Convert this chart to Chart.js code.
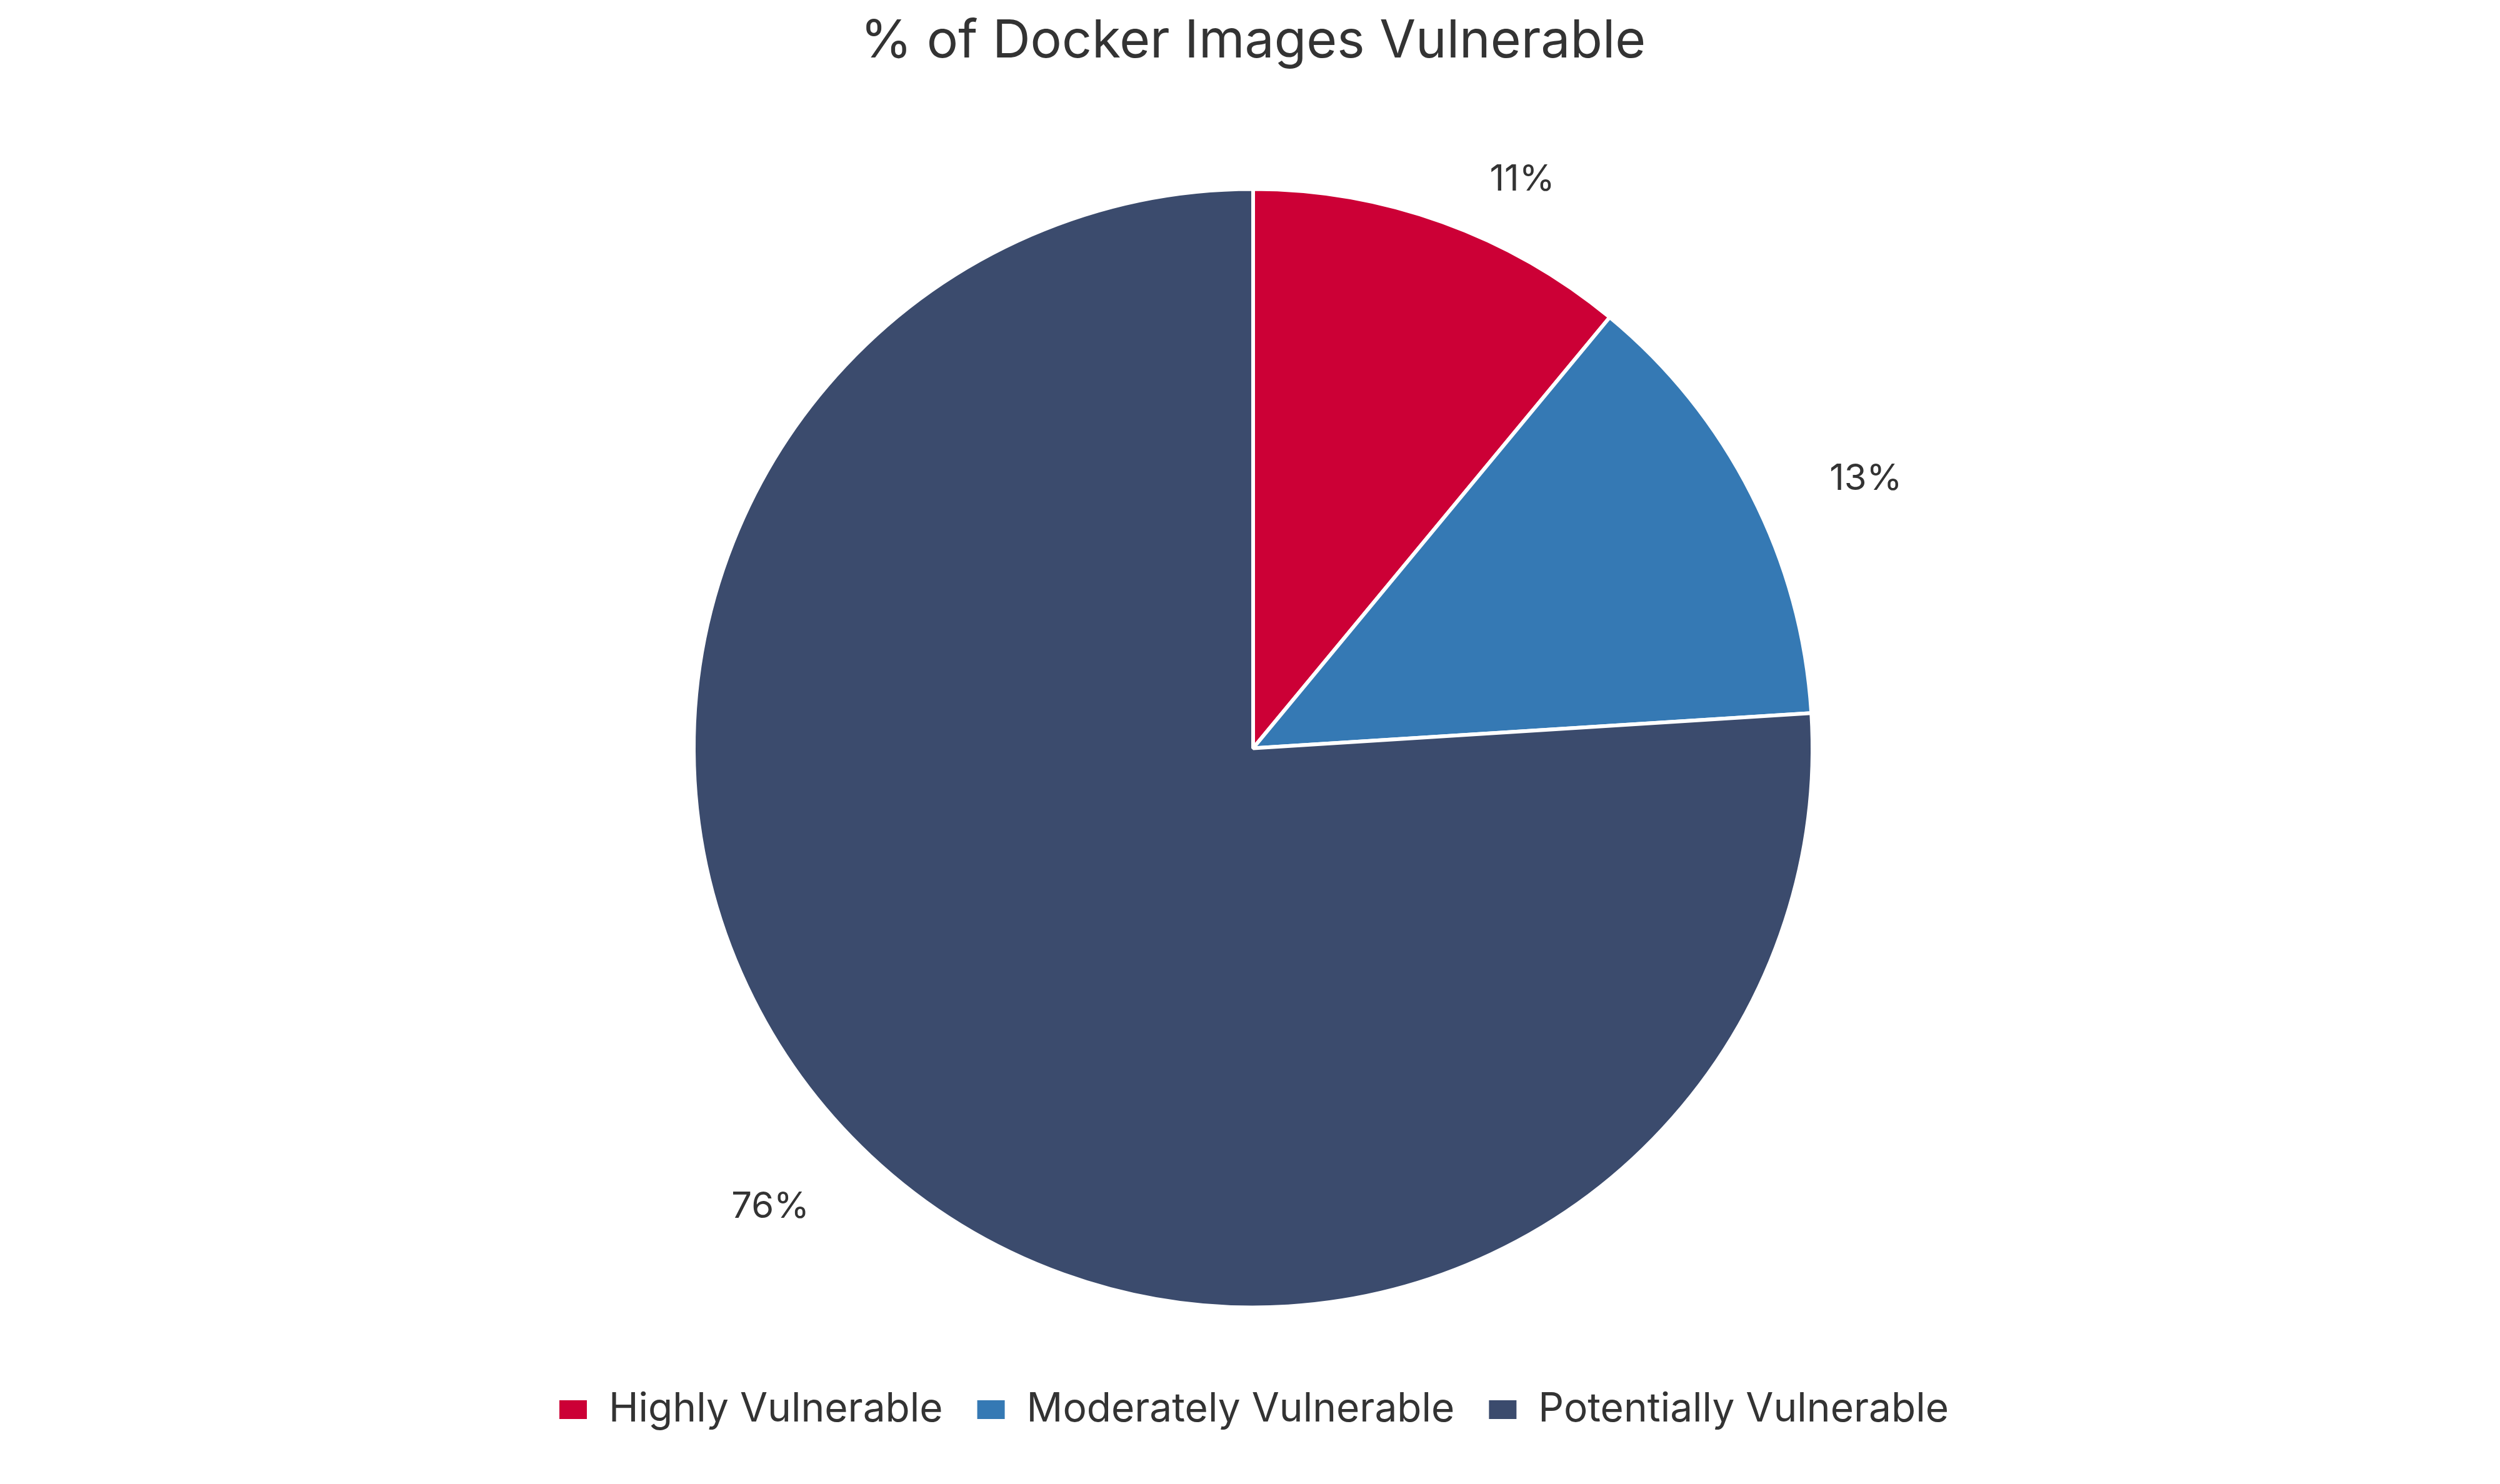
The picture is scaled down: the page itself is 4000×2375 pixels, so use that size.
<!DOCTYPE html>
<html>
<head>
<meta charset="utf-8">
<script src="https://cdn.jsdelivr.net/npm/chart.js@4.4.1/dist/chart.umd.min.js"></script>
<style>
  html, body { margin: 0; padding: 0; background: #ffffff; }
  #wrap { width: 4000px; height: 2375px; }
</style>
</head>
<body>
<div id="wrap"><canvas id="c" width="4000" height="2375"></canvas></div>
<script>
const titleText = "% of Docker Images Vulnerable";
const categories = ["Highly Vulnerable", "Moderately Vulnerable", "Potentially Vulnerable"];
const values = [11, 13, 76];
const colors = ["#CC0036", "#3579B4", "#3B4B6D"];

const FONT = "Inter, 'Open Sans', sans-serif";

const pctLabels = {
  id: "pctLabels",
  afterDatasetsDraw(chart) {
    const meta = chart.getDatasetMeta(0);
    const data = chart.data.datasets[0].data;
    const total = data.reduce((a, b) => a + b, 0);
    const ctx = chart.ctx;
    ctx.save();
    ctx.font = "400 58px " + FONT;
    ctx.fillStyle = "#333333";
    ctx.textBaseline = "middle";
    meta.data.forEach((arc, i) => {
      const p = arc.getProps(["x", "y", "startAngle", "endAngle", "outerRadius"], true);
      const mid = (p.startAngle + p.endAngle) / 2;
      const r = p.outerRadius * 1.1;
      const cx = Math.cos(mid), sy = Math.sin(mid);
      let x = p.x + cx * r;
      const y = p.y + sy * r + 16;
      if (cx >= 0) { ctx.textAlign = "left"; x += 45; }
      else { ctx.textAlign = "right"; x -= 36; }
      ctx.fillText(Math.round(data[i] / total * 100) + "%", x, y);
    });
    ctx.restore();
  }
};

new Chart(document.getElementById("c"), {
  type: "pie",
  data: {
    labels: categories,
    datasets: [{
      data: values,
      backgroundColor: colors,
      borderColor: "#ffffff",
      borderWidth: 6,
      hoverOffset: 0
    }]
  },
  options: {
    responsive: false,
    animation: false,
    devicePixelRatio: 1,
    radius: 895,
    layout: { padding: { top: 0, bottom: 77, left: 10, right: 0 } },
    plugins: {
      title: {
        display: true,
        text: titleText,
        color: "#333333",
        font: { family: FONT, size: 84, weight: "400" },
        padding: { top: 16, bottom: 106 }
      },
      legend: {
        display: true,
        position: "bottom",
        labels: {
          color: "#333333",
          font: { family: FONT, size: 64 },
          boxWidth: 50,
          boxHeight: 36,
          padding: 52
        }
      },
      tooltip: { enabled: false }
    }
  },
  plugins: [pctLabels]
});
</script>
</body>
</html>
